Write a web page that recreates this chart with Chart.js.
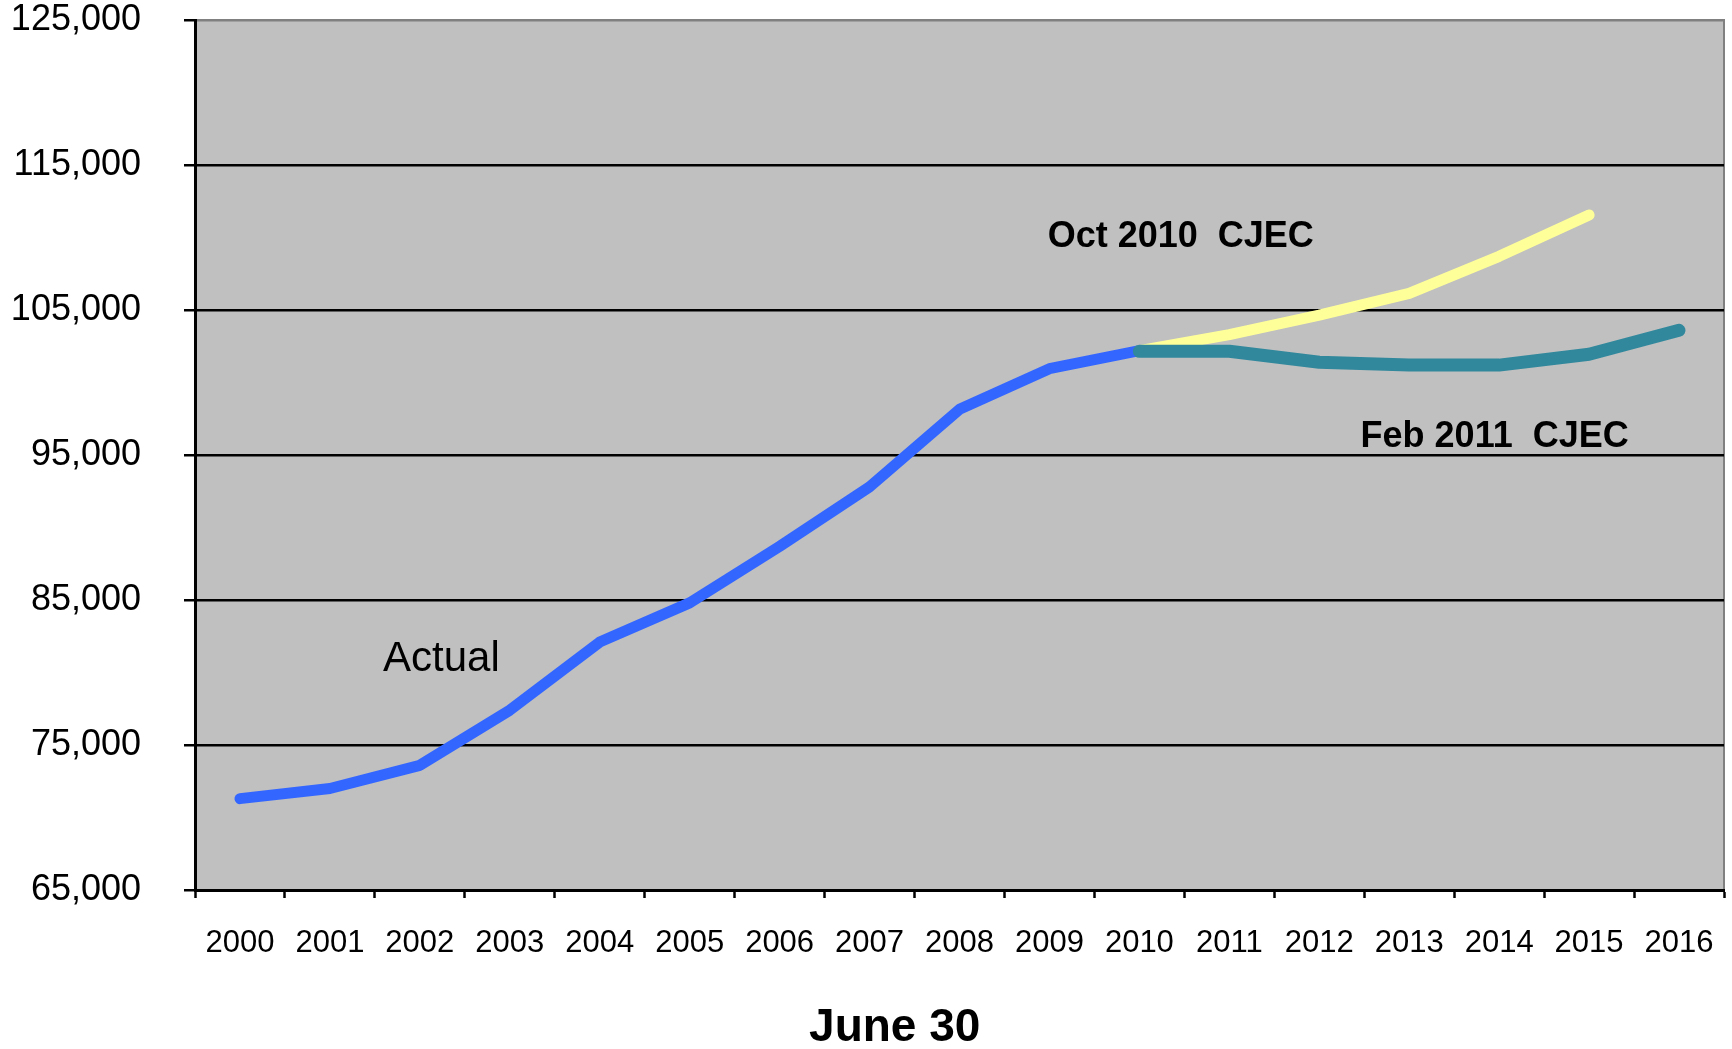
<!DOCTYPE html>
<html>
<head>
<meta charset="utf-8">
<script src="https://cdn.jsdelivr.net/npm/chart.js@4"></script>
<style>
  html, body { margin: 0; padding: 0; background: #ffffff; }
  #wrap { width: 1732px; height: 1049px; }
</style>
</head>
<body>
<div id="wrap"><canvas id="c1"></canvas></div>
<script>
var years = ['2000','2001','2002','2003','2004','2005','2006','2007','2008','2009','2010','2011','2012','2013','2014','2015','2016'];
var actual = [71300, 72000, 73600, 77400, 82100, 84800, 88700, 92800, 98150, 100950, 102200, null, null, null, null, null, null];
var oct2010 = [null, null, null, null, null, null, null, null, null, null, 102200, 103300, 104650, 106150, 108700, 111550, null];
var feb2011 = [null, null, null, null, null, null, null, null, null, null, 102150, 102150, 101400, 101200, 101200, 101950, 103600];
var notes = [
    { text: 'Actual', x: 2.24, y: 80900, bold: false, size: 42 },
    { text: 'Oct 2010  CJEC', x: 10.46, y: 110000, bold: true, size: 36 },
    { text: 'Feb 2011  CJEC', x: 13.95, y: 96250, bold: true, size: 36 }
];
var xTitle = 'June 30';

var FONT = '"Liberation Sans", Arial, sans-serif';

var plotBg = {
    id: 'plotBg',
    beforeDraw: function(chart) {
        var a = chart.chartArea, ctx = chart.ctx;
        ctx.save();
        ctx.fillStyle = '#c0c0c0';
        ctx.fillRect(a.left, a.top, a.right - a.left, a.bottom - a.top);
        ctx.strokeStyle = '#808080';
        ctx.lineWidth = 2;
        ctx.beginPath();
        ctx.moveTo(a.left, a.top);
        ctx.lineTo(a.right, a.top);
        ctx.lineTo(a.right, a.bottom);
        ctx.stroke();
        ctx.restore();
    },
    afterDatasetsDraw: function(chart) {
        var ctx = chart.ctx, xs = chart.scales.x, ys = chart.scales.y;
        ctx.save();
        ctx.fillStyle = '#000000';
        ctx.textAlign = 'center';
        ctx.textBaseline = 'middle';
        notes.forEach(function(n) {
            ctx.font = (n.bold ? 'bold ' : '') + n.size + 'px ' + FONT;
            ctx.fillText(n.text, xs.getPixelForValue(n.x), ys.getPixelForValue(n.y));
        });
        // axis title, sitting a little left of the plot centre as in the original
        ctx.font = 'bold 46px ' + FONT;
        ctx.fillText(xTitle, xs.getPixelForValue(7.28), 1028);
        ctx.restore();
    }
};

var ctx = document.getElementById('c1').getContext('2d');
var chart = new Chart(ctx, {
    type: 'line',
    data: {
        labels: years,
        datasets: [
            {
                label: 'Actual',
                data: actual,
                borderColor: '#3366ff',
                borderWidth: 11,
                order: 3
            },
            {
                label: 'Oct 2010 CJEC',
                data: oct2010,
                borderColor: '#ffff99',
                borderWidth: 11,
                order: 2
            },
            {
                label: 'Feb 2011 CJEC',
                data: feb2011,
                borderColor: '#31889c',
                borderWidth: 13,
                order: 1
            }
        ]
    },
    options: {
        responsive: true,
        maintainAspectRatio: false,
        animation: false,
        spanGaps: false,
        elements: {
            point: { radius: 0, hoverRadius: 0 },
            line: { tension: 0, borderCapStyle: 'round', borderJoinStyle: 'round', fill: false }
        },
        layout: { padding: { top: 0, right: 8, bottom: 0, left: 0 } },
        plugins: {
            legend: { display: false },
            tooltip: { enabled: false }
        },
        scales: {
            x: {
                offset: true,
                grid: {
                    offset: true,
                    drawOnChartArea: false,
                    drawTicks: true,
                    tickLength: 8,
                    tickWidth: 2.5,
                    tickColor: '#000000'
                },
                border: { display: true, color: '#000000', width: 3 },
                ticks: {
                    color: '#000000',
                    font: { family: FONT, size: 31 },
                    padding: 27,
                    maxRotation: 0,
                    autoSkip: false
                },
                afterFit: function(s) {
                    s.height = 159;
                    s.paddingLeft = 0;
                    s.paddingRight = 0;
                }
            },
            y: {
                min: 65000,
                max: 125000,
                grid: {
                    color: function(c) { return c.tick && c.tick.value === 125000 ? '#808080' : '#000000'; },
                    lineWidth: 2.5,
                    drawTicks: true,
                    tickLength: 11,
                    tickWidth: 2.5,
                    tickColor: '#000000'
                },
                border: { display: true, color: '#000000', width: 3 },
                ticks: {
                    stepSize: 10000,
                    color: '#000000',
                    font: { family: FONT, size: 36 },
                    padding: 43,
                    callback: function(v) { return v.toLocaleString('en-US'); }
                },
                afterFit: function(s) {
                    s.width = 195;
                    s.paddingTop = 20;
                    s.paddingBottom = 0;
                }
            }
        }
    },
    plugins: [plotBg]
});
</script>
</body>
</html>
